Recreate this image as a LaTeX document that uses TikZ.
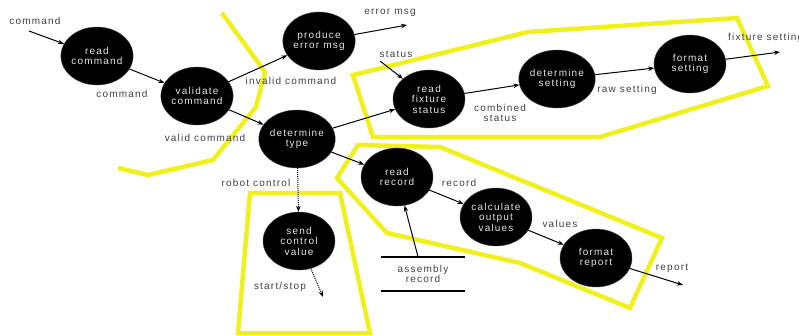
\documentclass[tikz,border=0pt]{standalone}
\usepackage{fontspec}
\setmainfont{Liberation Sans}[LetterSpace=12]
\usetikzlibrary{shapes.geometric,arrows.meta}
\definecolor{hlyellow}{RGB}{240,240,30}
\begin{document}
\begin{tikzpicture}[x=1pt,y=-1pt,
  proc/.style={ellipse, fill=black, draw=black!70, line width=0.4pt,
    minimum width=72pt, minimum height=58pt, inner sep=0pt,
    text=black!10, align=center, font=\fontsize{10}{10.5}\selectfont},
  lbl/.style={text=black!75, inner sep=0pt, align=center,
    font=\fontsize{10}{10.5}\selectfont},
  flow/.style={-{Stealth[length=6pt,width=4.5pt]}, line width=1pt},
  ctl/.style={flow, densely dotted},
  hl/.style={draw=hlyellow, line width=4.5pt, line join=miter},
  storeline/.style={line width=1.6pt},
  store/.style={lbl, minimum width=83pt, minimum height=34pt}
]
\useasboundingbox (0,0) rectangle (799,335);

% yellow highlights
\draw[hl] (222,13) -- (265,72) -- (256,107) -- (213,160) -- (148,175) -- (118,168);
\draw[hl] (353,75) -- (528,32) -- (737,18) -- (768,86) -- (600,137) -- (373,137) -- cycle;
\draw[hl] (358,145) -- (440,147) -- (662,238) -- (630,308) -- (520,263) -- (387,233) -- (337,178) -- cycle;
\draw[hl] (250,193) -- (340,193) -- (370,333) -- (238,333) -- cycle;

% processes
\node[proc] (rc) at (97,56) {read\\command};
\node[proc] (vc) at (197,96) {validate\\command};
\node[proc] (pe) at (319,41) {produce\\error msg};
\node[proc] (dt) at (297,139) {determine\\type};
\node[proc] (rf) at (429,99) {read\\fixture\\status};
\node[proc] (ds) at (557,79) {determine\\setting};
\node[proc] (fs) at (690,64) {format\\setting};
\node[proc] (rr) at (397,177) {read\\record};
\node[proc] (co) at (496,217) {calculate\\output\\values};
\node[proc] (fr) at (596,258) {format\\report};
\node[proc] (sc) at (299,241) {send\\control\\value};

% data store
\node[store] (asm) at (423,274) {assembly\\record};
\draw[storeline] (asm.north west) -- (asm.north east);
\draw[storeline] (asm.south west) -- (asm.south east);

% free ends
\coordinate (cin) at (29,31);
\coordinate (eout) at (407,25);
\coordinate (sin) at (380,61);
\coordinate (fout) at (780,52);
\coordinate (ssout) at (323,297);
\coordinate (rout) at (683,285);

% flows
\draw[flow] (cin) -- (rc);
\draw[flow] (rc) -- (vc);
\draw[flow] (vc) -- (pe);
\draw[flow] (vc) -- (dt);
\draw[flow] (pe) -- (eout);
\draw[flow] (sin) -- (rf);
\draw[flow] (dt) -- (rf);
\draw[flow] (rf) -- (ds);
\draw[flow] (ds) -- (fs);
\draw[flow] (fs) -- (fout);
\draw[flow] (dt) -- (rr);
\draw[ctl] (dt) -- (sc);
\draw[ctl] (sc) -- (ssout);
\draw[flow] ([xshift=-5pt]asm.north) -- (rr);
\draw[flow] (rr) -- (co);
\draw[flow] (co) -- (fr);
\draw[flow] (fr) -- (rout);

% labels
\node[lbl] (l1) at (35,21) {command};
\node[lbl] (l2) at (122,94) {command};
\node[lbl] (l3) at (205,138) {valid command};
\node[lbl] (l4) at (291,81) {invalid command};
\node[lbl] (l5) at (390,13) {error msg};
\node[lbl] (l6) at (396,54) {status};
\node[lbl] (l7) at (500,113) {combined\\status};
\node[lbl] (l8) at (627,90) {raw setting};
\node[lbl, anchor=west] (l9) at (728,38) {fixture setting};
\node[lbl] (l10) at (256,183) {robot control};
\node[lbl] (l11) at (280,287) {start/stop};
\node[lbl] (l12) at (459,183) {record};
\node[lbl] (l13) at (560,224) {values};
\node[lbl] (l14) at (672,268) {report};
\end{tikzpicture}
\end{document}
